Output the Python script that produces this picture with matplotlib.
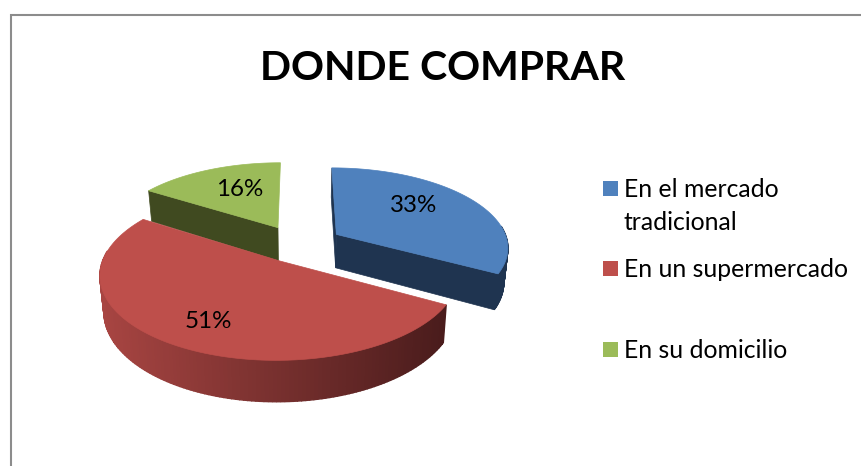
import numpy as np
import matplotlib
matplotlib.use("Agg")
import matplotlib.pyplot as plt
from matplotlib.patches import Polygon, Rectangle

title = "DONDE COMPRAR"
categories = ["En el mercado\ntradicional", "En un supermercado", "En su domicilio"]
values = [33, 51, 16]
labels = ["33%", "51%", "16%"]
top_colors = ["#4F81BD", "#BE4F4B", "#9BBB59"]
side_colors = ["#1F3450", "#4A1C1C", "#404A20"]

W, H = 862, 466
fig = plt.figure(figsize=(W / 100, H / 100), dpi=100, facecolor="white")
ax = fig.add_axes([0, 0, 1, 1])
ax.set_xlim(0, W)
ax.set_ylim(H, 0)
ax.axis("off")

# frame (cut off at the right and bottom of the picture)
ax.plot([11, 11, W], [H, 15, 15], color="#8C8C8C", lw=1.5, solid_joinstyle="miter")

# perspective model of the pie
CX, CY, R, RV, K, DEPTH, EXPLODE, SHRINK = 300, 244, 172, 79.0, 0.148, 34, 0.243, 0.98
SLICE_SHIFT = [1, 2, -2.5]   # small horizontal layout correction per slice


def project(X, Y, bottom=False):
    s = 1 / (1 + K * Y)
    x = CX + R * X * s
    y = CY - RV * Y * s
    if bottom:
        x = CX + (x - CX) * SHRINK
        y = y + DEPTH * s
    return x, y


def face(xs, ys, color, z, lw=0.5):
    ax.add_patch(Polygon(np.column_stack([xs, ys]), closed=True, facecolor=color,
                         edgecolor=color, lw=lw, zorder=z))


total = sum(values)
edges = np.cumsum([0] + values) / total * 2 * np.pi   # clockwise from 12 o'clock
draw_order = {2: 2, 0: 3, 1: 4}
visible_radial = {0: (True, True), 1: (False, False), 2: (True, False)}
for i in [2, 0, 1]:
    a0, a1 = edges[i], edges[i + 1]
    mid = (a0 + a1) / 2
    ox, oy = EXPLODE * np.sin(mid), EXPLODE * np.cos(mid)
    t = np.linspace(a0, a1, 160)
    X = ox + np.sin(t)
    Y = oy + np.cos(t)
    z = draw_order[i] * 10
    dx = SLICE_SHIFT[i]

    # radial faces
    for a, show in zip((a0, a1), visible_radial[i]):
        if not show:
            continue
        ex, ey = ox + np.sin(a), oy + np.cos(a)
        px, py = project(np.array([ox, ex]), np.array([oy, ey]))
        bx, by = project(np.array([ox, ex]), np.array([oy, ey]), bottom=True)
        face(np.r_[px, bx[::-1]] + dx, np.r_[py, by[::-1]], side_colors[i], z)

    # outer wall: only the part that faces the viewer
    tx, ty = project(X, Y)
    bx, by = project(X, Y, bottom=True)
    tx, bx = tx + dx, bx + dx
    for j in range(len(t) - 1):
        if np.cos(t[j]) > 0.12:
            continue
        if i == 1:
            f = np.clip((tx[j] - 100) / 345, 0, 1)
            c0 = np.array([0xA8, 0x45, 0x42]) / 255
            c1 = np.array([0x4A, 0x1C, 0x1C]) / 255
            col = tuple(c0 + (c1 - c0) * f)
        else:
            col = side_colors[i]
        face([tx[j], tx[j + 1], bx[j + 1], bx[j]], [ty[j], ty[j + 1], by[j + 1], by[j]], col, z + 1, lw=1.0)

    # top surface
    ax_, ay_ = project(np.array([ox]), np.array([oy]))
    face(np.r_[ax_ + dx, tx], np.r_[ay_, ty], top_colors[i], z + 2)

# data labels
label_pos = [(414, 205), (208, 321), (240, 189)]
for (lx, ly), s in zip(label_pos, labels):
    ax.text(lx, ly, s, fontsize=17.4, family="Lato", ha="center", va="center",
            color="black", zorder=100)

# title
ax.text(443, 69, title, fontsize=29.5, family="Lato", fontweight="bold", ha="center",
        va="center", color="black", zorder=100)

# legend
legend_y = [181, 261, 342]
for y, c, s in zip(legend_y, top_colors, categories):
    ax.add_patch(Rectangle((603, y), 15, 15, facecolor=c, edgecolor="none", zorder=100))
    ax.text(624, y - 3, s, fontsize=17.8, family="Lato", ha="left", va="top", color="black",
            linespacing=1.55, zorder=100)

fig.savefig("out.png", dpi=100, facecolor="white")
